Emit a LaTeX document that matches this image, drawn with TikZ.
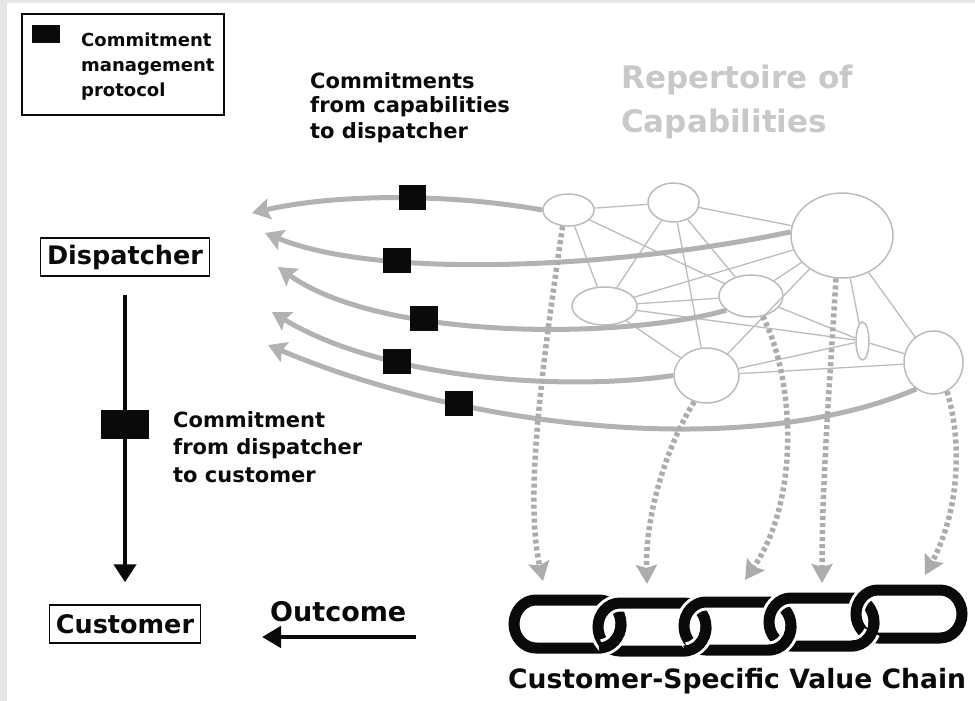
\documentclass[tikz,border=0pt]{standalone}
\usepackage{fontspec}
\setmainfont{DejaVu Sans}
\usetikzlibrary{arrows.meta,shapes.geometric}

\definecolor{flowgray}{RGB}{178,178,178}
\definecolor{dotgray}{RGB}{172,172,172}
\definecolor{netgray}{RGB}{188,188,188}
\definecolor{titlegray}{RGB}{200,200,200}
\definecolor{edgeshade}{RGB}{230,230,230}
\definecolor{inkblack}{RGB}{10,10,10}

% one chain link: left end, right end and height of its centre line
\newcommand\chainlink[3]{%
  \draw[linkcase] (#1+22,#3-24) -- (#2-22,#3-24)
    arc[start angle=-90,end angle=90,x radius=22,y radius=24]
    -- (#1+22,#3+24)
    arc[start angle=90,end angle=270,x radius=22,y radius=24] -- cycle;
  \draw[linkline] (#1+22,#3-24) -- (#2-22,#3-24)
    arc[start angle=-90,end angle=90,x radius=22,y radius=24]
    -- (#1+22,#3+24)
    arc[start angle=90,end angle=270,x radius=22,y radius=24] -- cycle;
}
% lower quarter of a link's right end, passing over the next link
\newcommand\linkover[2]{%
  \draw[linkcase] ({#1-22+22*cos(25)},{#2+24*sin(25)})
    arc[start angle=25,end angle=80,x radius=22,y radius=24];
  \draw[linkline] (#1,#2) arc[start angle=0,end angle=90,x radius=22,y radius=24];
}

\begin{document}
\begin{tikzpicture}[x=1pt,y=-1pt,
  every node/.style={text=inkblack},
  capnode/.style={ellipse,draw=netgray,line width=1.5pt,fill=white,inner sep=0pt},
  tie/.style={draw=netgray,line width=1.3pt},
  flow/.style={draw=flowgray,line width=5pt,
    -{Stealth[length=18pt,width=21pt,inset=3pt]}},
  supply/.style={draw=dotgray,line width=5.5pt,dash pattern=on 4pt off 3pt,
    -{Stealth[length=19pt,width=21pt,inset=3pt]}},
  commit/.style={fill=inkblack,draw=none,inner sep=0pt,
    minimum width=28pt,minimum height=25pt},
  cmd/.style={draw=inkblack,line width=4.5pt,-{Triangle[length=18pt,width=22pt]}},
  rolebox/.style={draw=inkblack,line width=1.5pt,inner sep=0pt,
    minimum width=169pt,minimum height=38pt,
    font=\bfseries\fontsize{25.5}{30}\selectfont},
  note/.style={anchor=base west,align=left,inner sep=0pt},
  linkcase/.style={draw=white,line width=17pt},
  linkline/.style={draw=inkblack,line width=11pt}]

\useasboundingbox (0,0) rectangle (975,701);
\fill[edgeshade] (0,0) rectangle (7,701);
\fill[edgeshade] (0,0) rectangle (975,3);

% legend (multi-line notes are placed by the baseline of their last line)
\node[draw=inkblack,line width=2pt,minimum width=202pt,minimum height=101pt,
  inner sep=0pt] (legend) at (123,64.5) {};
\node[fill=inkblack,inner sep=0pt,minimum width=28pt,minimum height=18pt]
  (legendkey) at (46,34) {};
\node[note,font=\bfseries\fontsize{18}{25}\selectfont] (legendtext) at (81,96)
  {Commitment\\management\\protocol};

% headings
\node[note,font=\bfseries\fontsize{21}{25}\selectfont] (capnote) at (310,138)
  {Commitments\\from capabilities\\to dispatcher};
\node[note,text=titlegray,font=\bfseries\fontsize{31}{44}\selectfont]
  (repertoire) at (621,132) {Repertoire of\\Capabilities};

% roles
\node[rolebox] (disp) at (125,257) {Dispatcher};
\node[rolebox,minimum width=151pt] (cust) at (125,624) {Customer};
\node[note,font=\bfseries\fontsize{21}{27.5}\selectfont] (dispnote) at (173,482)
  {Commitment\\from dispatcher\\to customer};

\draw[cmd,shorten <=18pt,shorten >=22pt] (disp) -- (cust)
  node[commit,minimum width=48pt,minimum height=29pt,pos=0.451] (dispcommit) {};

% outcome
\node[anchor=base west,inner sep=0pt,
  font=\bfseries\fontsize{27}{30}\selectfont] (outcome) at (270,621) {Outcome};
\coordinate (outsrc) at (416,637);
\coordinate (outtip) at (262,637);
\draw[cmd,-{Triangle[length=19pt,width=21pt]}] (outsrc) -- (outtip);

% repertoire of capabilities
\node[capnode,minimum width=51pt,minimum height=32pt] (E1) at (568.5,210) {};
\node[capnode,minimum width=51pt,minimum height=39pt] (E2) at (673.5,202.5) {};
\node[capnode,minimum width=102pt,minimum height=85pt] (E3) at (842,235.5) {};
\node[capnode,minimum width=65pt,minimum height=38pt] (E4) at (604.5,306) {};
\node[capnode,minimum width=64pt,minimum height=42pt] (E5) at (751,296) {};
\node[capnode,minimum width=13pt,minimum height=38pt] (E6) at (862.5,341) {};
\node[capnode,minimum width=65pt,minimum height=55pt] (E7) at (706.5,375.5) {};
\node[capnode,minimum width=59pt,minimum height=63pt] (E8) at (933.5,362.5) {};

\foreach \a/\b in {E1/E2,E1/E4,E1/E5,E2/E3,E2/E4,E2/E5,E2/E7,E3/E4,E3/E5,
  E3/E6,E3/E7,E3/E8,E4/E5,E4/E6,E4/E7,E5/E6,E6/E7,E6/E8,E7/E8}
  \draw[tie] (\a) -- (\b);

% commitments from capabilities to the dispatcher
\coordinate (t1) at (252,213);
\coordinate (t2) at (265,233);
\coordinate (t3) at (278,267);
\coordinate (t4) at (272,312);
\coordinate (t5) at (268,345);
\draw[flow] (E1.west) .. controls (440,192) and (330,195) .. (t1)
  node[commit,minimum width=27pt,pos=0.42] (c1) {};
\draw[flow] (E3.176) .. controls (620,268) and (380,280) .. (t2)
  node[commit,pos=0.70] (c2) {};
\draw[flow] (E5.210) .. controls (620,340) and (380,340) .. (t3)
  node[commit,pos=0.65] (c3) {};
\draw[flow] (E7.west) .. controls (560,392) and (380,378) .. (t4)
  node[commit,pos=0.67] (c4) {};
\draw[flow] (E8.237) .. controls (750,460) and (470,430) .. (t5)
  node[commit,pos=0.71] (c5) {};

% capabilities feeding the value chain
\coordinate (d1) at (543,581);
\coordinate (d2) at (647,584);
\coordinate (d3) at (745,580);
\coordinate (d4) at (822,583);
\coordinate (d5) at (925,575);
\draw[supply] (E1.250) .. controls (540,380) and (525,500) .. (d1);
\draw[supply] (E7.245) .. controls (670,440) and (645,510) .. (d2);
\draw[supply] (E5.300) .. controls (795,380) and (800,500) .. (d3);
\draw[supply] (E3.262) .. controls (830,380) and (822,480) .. (d4);
\draw[supply] (E8.295) .. controls (962,440) and (960,510) .. (d5);

% value chain
\chainlink{514}{621}{624}
\chainlink{598}{706}{627}
\chainlink{684}{791}{626}
\chainlink{769}{874}{622}
\chainlink{856}{962}{614}
\linkover{621}{624}
\linkover{706}{627}
\linkover{791}{626}
\linkover{874}{622}

\node[anchor=base west,inner sep=0pt,
  font=\bfseries\fontsize{26.6}{30}\selectfont] (chainlabel) at (508,688)
  {Customer-Specific Value Chain};
\end{tikzpicture}
\end{document}
